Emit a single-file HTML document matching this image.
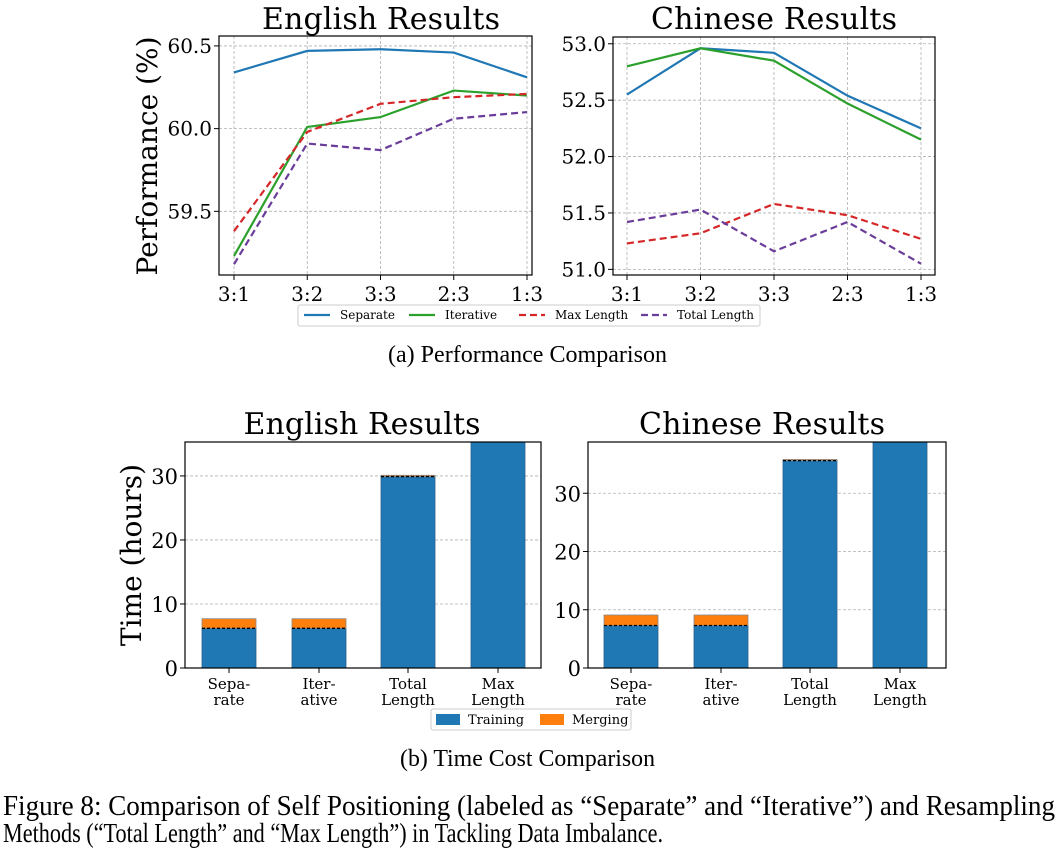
<!DOCTYPE html>
<html><head><meta charset="utf-8">
<style>
html,body{margin:0;padding:0;background:#fff;}
svg{display:block;}
text{font-family:"DejaVu Serif","Liberation Serif",serif;fill:#000;}
text.cap{font-family:"Liberation Serif",serif;}
</style></head>
<body>
<svg id="fig" width="1060" height="848" viewBox="0 0 1060 848" xmlns="http://www.w3.org/2000/svg">
<text x="381" y="29" font-size="30" text-anchor="middle" textLength="238">English Results</text>
<text x="774" y="29" font-size="30" text-anchor="middle" textLength="246">Chinese Results</text>
<text transform="translate(157,156) rotate(-90)" font-size="28" text-anchor="middle">Performance (%)</text>
<text x="388" y="362" class="cap" font-size="24" textLength="279" lengthAdjust="spacingAndGlyphs">(a) Performance Comparison</text>
<text x="362" y="434" font-size="30" text-anchor="middle" textLength="237">English Results</text>
<text x="762" y="434" font-size="30" text-anchor="middle" textLength="246">Chinese Results</text>
<text transform="translate(141,555) rotate(-90)" font-size="28" text-anchor="middle">Time (hours)</text>
<text x="400" y="766" class="cap" font-size="24" textLength="255" lengthAdjust="spacingAndGlyphs">(b) Time Cost Comparison</text>
<text x="3" y="815" class="cap" font-size="28" textLength="1052" lengthAdjust="spacingAndGlyphs">Figure 8: Comparison of Self Positioning (labeled as “Separate” and “Iterative”) and Resampling</text>
<text x="3" y="842" class="cap" font-size="27" textLength="660" lengthAdjust="spacingAndGlyphs">Methods (“Total Length” and “Max Length”) in Tackling Data Imbalance.</text>
<g id="plots"></g>
</svg>
<script>
const ratios = ["3:1","3:2","3:3","2:3","1:3"];
const seriesNames = ["Separate","Iterative","Max Length","Total Length"];
const enSeparate = [60.34,60.47,60.48,60.46,60.31];
const enIterative = [59.23,60.01,60.07,60.23,60.20];
const enMax = [59.38,59.98,60.15,60.19,60.21];
const enTotal = [59.18,59.91,59.87,60.06,60.10];
const zhSeparate = [52.55,52.96,52.92,52.54,52.25];
const zhIterative = [52.80,52.96,52.85,52.47,52.15];
const zhMax = [51.23,51.32,51.58,51.48,51.27];
const zhTotal = [51.42,51.53,51.16,51.42,51.05];
const enTicks = [59.5,60.0,60.5];
const zhTicks = [51.0,51.5,52.0,52.5,53.0];
const methods = [["Sepa-","rate"],["Iter-","ative"],["Total","Length"],["Max","Length"]];
const enTraining = [6.2,6.2,29.9,40];
const enMerging = [1.5,1.5,0.2,0];
const zhTraining = [7.3,7.3,35.6,42];
const zhMerging = [1.8,1.8,0.2,0];
const timeTicksEn = [0,10,20,30];
const timeTicksZh = [0,10,20,30];

const NS="http://www.w3.org/2000/svg";
const root=document.getElementById('plots');
function mk(tag,attrs,parent){const e=document.createElementNS(NS,tag);for(const k in attrs)e.setAttribute(k,attrs[k]);(parent||root).appendChild(e);return e;}
const colors=["#1f77b4","#2ca02c","#d62728","#6a3d9a"];
const dashes=["","","7,4","7,4"];

function lineChart(key,L,R,T,B,x0,x1,ymin,ymax,ticks,series){
  const g=mk('g',{});
  
  
  const xs=i=>x0+(x1-x0)*i/(ratios.length-1);
  const ys=v=>B-(v-ymin)/(ymax-ymin)*(B-T);
  ratios.forEach((r,i)=>{
    const gl=mk('line',{x1:xs(i),x2:xs(i),y1:T,y2:B,stroke:'#b0b0b0','stroke-dasharray':'3,2','stroke-width':0.8},g);
    
    
    mk('line',{x1:xs(i),x2:xs(i),y1:B,y2:B+5,stroke:'#000'},g);
    const t=mk('text',{x:xs(i),y:B+26,'font-size':20,'text-anchor':'middle'},g);
    t.textContent=r;
    
    
  });
  ticks.forEach(v=>{
    const gl=mk('line',{x1:L,x2:R,y1:ys(v),y2:ys(v),stroke:'#b0b0b0','stroke-dasharray':'3,2','stroke-width':0.8},g);
    
    
    mk('line',{x1:L-5,x2:L,y1:ys(v),y2:ys(v),stroke:'#000'},g);
    const t=mk('text',{x:L-7,y:ys(v)+7,'font-size':20,'text-anchor':'end'},g);
    t.textContent=v.toFixed(1);
    
    
  });
  series.forEach((s,k)=>{
    const p=mk('polyline',{points:s.map((v,i)=>xs(i)+','+ys(v)).join(' '),fill:'none',stroke:colors[k],'stroke-width':2.2,'stroke-dasharray':dashes[k]},g);
    
    
  });
  const fr=mk('rect',{x:L,y:T,width:R-L,height:B-T,fill:'none',stroke:'#000','stroke-width':1.2},g);
  
  
}
lineChart('english',219,532,36,275,234,527,59.115,60.56,enTicks,[enSeparate,enIterative,enMax,enTotal]);
lineChart('chinese',613,935,37,275,627,921,50.95,53.06,zhTicks,[zhSeparate,zhIterative,zhMax,zhTotal]);

const lg=mk('g',{});


mk('rect',{x:298,y:305,width:462,height:21,fill:'#fff',stroke:'#ccc',rx:2},lg);
const lx=[304,409,519,641];
seriesNames.forEach((n,k)=>{
  mk('line',{x1:lx[k],x2:lx[k]+26,y1:315,y2:315,stroke:colors[k],'stroke-width':2.2,'stroke-dasharray':dashes[k]},lg);
  const t=mk('text',{x:lx[k]+36,y:319,'font-size':12},lg);
  t.textContent=n;
  
  
});

function barChart(key,L,R,T,B,centers,ymax,ticks,train,merge){
  const g=mk('g',{});
  
  
  const ys=v=>B-Math.min(v,ymax)/ymax*(B-T);
  ticks.forEach(v=>{
    const gl=mk('line',{x1:L,x2:R,y1:ys(v),y2:ys(v),stroke:'#b0b0b0','stroke-dasharray':'3,2','stroke-width':0.8},g);
    
    
    mk('line',{x1:L-5,x2:L,y1:ys(v),y2:ys(v),stroke:'#000'},g);
    const t=mk('text',{x:L-7,y:ys(v)+8,'font-size':21,'text-anchor':'end','font-family':'Liberation Serif, serif'},g);
    t.textContent=v;
    
    
  });
  const w=54;
  methods.forEach((m,i)=>{
    const c=centers[i];
    const b=mk('rect',{x:c-w/2,y:ys(train[i]),width:w,height:B-ys(train[i]),fill:'#1f77b4',stroke:'#2a5f8a','stroke-width':0.8},g);
    
    
    if(merge[i]>0){
      const mb=mk('rect',{x:c-w/2,y:ys(train[i]+merge[i]),width:w,height:ys(train[i])-ys(train[i]+merge[i]),fill:'#ff7f0e',stroke:'#888','stroke-width':0.8},g);
      
      
      mk('line',{x1:c-w/2,x2:c+w/2,y1:ys(train[i]),y2:ys(train[i]),stroke:'#000','stroke-width':1.3,'stroke-dasharray':'3,2'},g);
    }
    mk('line',{x1:c,x2:c,y1:B,y2:B+5,stroke:'#000'},g);
    m.forEach((s,j)=>{
      const t=mk('text',{x:c,y:B+21+j*16,'font-size':15,'text-anchor':'middle','font-family':'Liberation Serif, serif'},g);
      t.textContent=s;
      
      
    });
  });
  const fr=mk('rect',{x:L,y:T,width:R-L,height:B-T,fill:'none',stroke:'#000','stroke-width':1.2},g);
  
  
}
barChart('english',185,541,442,668,[229,319,408,498],35.3,timeTicksEn,enTraining,enMerging);
barChart('chinese',588,946,442,668,[631,721,810,900],38.8,timeTicksZh,zhTraining,zhMerging);

const bl=mk('g',{});


mk('rect',{x:431,y:709,width:200,height:21,fill:'#fff',stroke:'#ccc',rx:2},bl);
mk('rect',{x:436,y:714,width:24,height:11,fill:'#1f77b4'},bl);
const t1=mk('text',{x:468,y:724,'font-size':13,'font-family':'Liberation Serif, serif'},bl);t1.textContent='Training';


mk('rect',{x:540,y:714,width:24,height:11,fill:'#ff7f0e'},bl);
const t2=mk('text',{x:572,y:724,'font-size':13,'font-family':'Liberation Serif, serif'},bl);t2.textContent='Merging';


</script>
</body></html>
